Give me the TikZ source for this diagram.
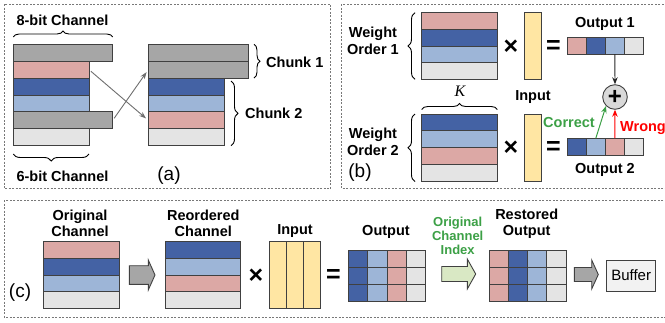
\documentclass[tikz,border=0pt]{standalone}
\usepackage{fontspec}
\setmainfont{Liberation Sans}
\newfontfamily\seriffam{Liberation Serif}
\usetikzlibrary{decorations.pathreplacing,arrows.meta}
\definecolor{cpink}{RGB}{220,168,165}
\definecolor{cdblue}{RGB}{68,98,164}
\definecolor{clblue}{RGB}{157,181,215}
\definecolor{clgray}{RGB}{228,228,228}
\definecolor{cgray}{RGB}{166,166,166}
\definecolor{cyellow}{RGB}{255,230,163}
\definecolor{cline}{RGB}{64,64,64}
\definecolor{cframe}{RGB}{120,120,120}
\definecolor{cgreen}{RGB}{60,160,70}
\definecolor{carrowg}{RGB}{217,232,196}
\definecolor{cbuf}{RGB}{242,242,242}
\definecolor{cconn}{RGB}{110,110,110}
\definecolor{cplus}{RGB}{217,217,217}
\begin{document}
\begin{tikzpicture}[x=1pt,y=-1pt,
  cell/.style={draw=cline, line width=0.9pt, inner sep=0pt, outer sep=0pt, anchor=north west},
  lbl/.style={font=\fontsize{14.5}{17.5}\selectfont\bfseries, align=center, inner sep=0pt},
  lblc/.style={font=\fontsize{14.5}{16}\selectfont\bfseries, align=center, inner sep=0pt},
  tag/.style={font=\fontsize{19}{19}\selectfont, inner sep=0pt},
  frame/.style={draw=cframe, line width=0.8pt, dash pattern=on 2pt off 1.5pt},
  brc/.style={decorate, decoration={brace, amplitude=6pt}, line width=0.9pt, draw=black},
  opr/.style={font=\fontsize{25}{25}\selectfont\bfseries, inner sep=0pt},
  conn/.style={draw=cconn, line width=0.9pt, -{Stealth[length=7pt,width=5pt]}},
  blockarrow/.style={draw=cline, line width=0.9pt}
]
\useasboundingbox (0,0) rectangle (665,322);

% ---------- frames ----------
\draw[frame] (4,4) rectangle (330.5,188.5);
\draw[frame] (341.5,4) rectangle (668,188.5);
\draw[frame] (4,200) rectangle (668,317);

% ---------- panel (a) ----------
\node[cell, fill=cgray,  minimum width=99.4pt, minimum height=16.9pt] (aL1) at (13.3,44.3) {};
\node[cell, fill=cpink,  minimum width=75.7pt, minimum height=16.9pt] (aL2) at (13.3,61.2) {};
\node[cell, fill=cdblue, minimum width=75.7pt, minimum height=16.9pt] (aL3) at (13.3,78.1) {};
\node[cell, fill=clblue, minimum width=75.7pt, minimum height=16.9pt] (aL4) at (13.3,95.0) {};
\node[cell, fill=cgray,  minimum width=99.4pt, minimum height=16.9pt] (aL5) at (13.3,111.9) {};
\node[cell, fill=clgray, minimum width=75.7pt, minimum height=16.9pt] (aL6) at (13.3,128.8) {};

\node[cell, fill=cgray,  minimum width=100pt, minimum height=16.9pt] (aR1) at (148.3,44.3) {};
\node[cell, fill=cgray,  minimum width=100pt, minimum height=16.9pt] (aR2) at (148.3,61.2) {};
\node[cell, fill=cdblue, minimum width=75.7pt, minimum height=16.9pt] (aR3) at (148.3,78.1) {};
\node[cell, fill=clblue, minimum width=75.7pt, minimum height=16.9pt] (aR4) at (148.3,95.0) {};
\node[cell, fill=cpink,  minimum width=75.7pt, minimum height=16.9pt] (aR5) at (148.3,111.9) {};
\node[cell, fill=clgray, minimum width=75.7pt, minimum height=16.9pt] (aR6) at (148.3,128.8) {};

\draw[conn, shorten <=2.5pt, shorten >=3pt] (aL2.east) -- (aR5.west);
\draw[conn, shorten <=2.5pt, shorten >=3pt] (aL5.east) -- (aR2.west);

\draw[brc] (13.3,37) -- (112.7,37);
\node[lbl] (t8bit) at (62.5,20) {8-bit Channel};
\draw[brc, decoration={amplitude=7pt}] (89,154) -- (13.3,154);
\node[lbl] (t6bit) at (62.5,176) {6-bit Channel};
\draw[brc] (254,44.3) -- (254,78.1);
\node[lbl, anchor=west] (tch1) at (266,62) {Chunk 1};
\draw[brc, decoration={amplitude=7pt}] (231,81) -- (231,145.7);
\node[lbl, anchor=west] (tch2) at (245,113) {Chunk 2};
\node[tag] (taga) at (169,176) {(a)};

% ---------- panel (b) ----------
\node[cell, fill=cpink,  minimum width=75.6pt, minimum height=16.65pt] (w11) at (421.7,12.7) {};
\node[cell, fill=cdblue, minimum width=75.6pt, minimum height=16.65pt] (w12) at (421.7,29.35) {};
\node[cell, fill=clblue, minimum width=75.6pt, minimum height=16.65pt] (w13) at (421.7,46.0) {};
\node[cell, fill=clgray, minimum width=75.6pt, minimum height=16.65pt] (w14) at (421.7,62.65) {};
\node[cell, fill=cyellow, minimum width=16.7pt, minimum height=66.6pt] (in1) at (524.3,12.7) {};
\node[opr] (x1) at (511,47) {×};
\node[opr] (eq1) at (553.3,46.5) {=};
\node[cell, fill=cpink,  minimum width=19pt, minimum height=16.7pt] (o11) at (567.3,37.3) {};
\node[cell, fill=cdblue, minimum width=19pt, minimum height=16.7pt] (o12) at (586.3,37.3) {};
\node[cell, fill=clblue, minimum width=19pt, minimum height=16.7pt] (o13) at (605.3,37.3) {};
\node[cell, fill=clgray, minimum width=19pt, minimum height=16.7pt] (o14) at (624.3,37.3) {};
\node[lbl] (tout1) at (605,24) {Output 1};

\node[cell, fill=cdblue, minimum width=75.6pt, minimum height=16.9pt] (w21) at (421.7,114) {};
\node[cell, fill=clblue, minimum width=75.6pt, minimum height=16.9pt] (w22) at (421.7,130.9) {};
\node[cell, fill=cpink,  minimum width=75.6pt, minimum height=16.9pt] (w23) at (421.7,147.8) {};
\node[cell, fill=clgray, minimum width=75.6pt, minimum height=16.9pt] (w24) at (421.7,164.7) {};
\node[cell, fill=cyellow, minimum width=16.7pt, minimum height=67.6pt] (in2) at (524.3,114) {};
\node[opr] (x2) at (511,148.5) {×};
\node[opr] (eq2) at (553.3,148) {=};
\node[cell, fill=cdblue, minimum width=19pt, minimum height=17.4pt] (o21) at (567.3,138.3) {};
\node[cell, fill=clblue, minimum width=19pt, minimum height=17.4pt] (o22) at (586.3,138.3) {};
\node[cell, fill=cpink,  minimum width=19pt, minimum height=17.4pt] (o23) at (605.3,138.3) {};
\node[cell, fill=clgray, minimum width=19pt, minimum height=17.4pt] (o24) at (624.3,138.3) {};
\node[lbl] (tout2) at (605,170) {Output 2};

\draw[brc, decoration={amplitude=7pt}] (415,79.3) -- (415,12.7);
\node[lbl] (two1) at (373,41) {Weight\\Order 1};
\draw[brc, decoration={amplitude=7pt}] (415,181.6) -- (415,114);
\node[lbl] (two2) at (373,142) {Weight\\Order 2};
\draw[brc] (421.7,109.5) -- (497.3,109.5);
\node[inner sep=0pt, font=\fontsize{16}{16}\selectfont\seriffam\itshape] (tK) at (460,91.5) {K};
\node[lbl] (tin) at (533,97) {Input};

\node[circle, draw=cline, fill=cplus, line width=0.9pt, minimum size=24.6pt, inner sep=0pt,
      font=\fontsize{24}{24}\selectfont\bfseries] (plus) at (615,97) {+};
\draw[draw=black!85, line width=0.9pt, -{Stealth[length=7pt,width=5.5pt]}] (o13.south) -- (plus.north);
\draw[draw=red, line width=1pt, -{Stealth[length=7pt,width=5.5pt]}] (o23.north) -- (plus.south);
\draw[draw=cgreen, line width=1pt, -{Stealth[length=7pt,width=5.5pt]}] (o22.north) -- (plus.south west);
\node[lbl, text=cgreen, anchor=east] (tcor) at (595,123) {Correct};
\node[lbl, text=red, anchor=west] (twr) at (620,128) {Wrong};
\node[tag] (tagb) at (360,173) {(b)};

% ---------- panel (c) ----------
\node[cell, fill=cpink,  minimum width=75.7pt, minimum height=16.65pt] (c11) at (43.3,241.7) {};
\node[cell, fill=cdblue, minimum width=75.7pt, minimum height=16.65pt] (c12) at (43.3,258.35) {};
\node[cell, fill=clblue, minimum width=75.7pt, minimum height=16.65pt] (c13) at (43.3,275.0) {};
\node[cell, fill=clgray, minimum width=75.7pt, minimum height=16.65pt] (c14) at (43.3,291.65) {};
\node[lblc] (torig) at (80,223) {Original\\Channel};

\draw[blockarrow, fill=cgray] (129.3,265.7) -- (148.3,265.7) -- (148.3,260) -- (155,275) -- (148.3,290) -- (148.3,284.3) -- (129.3,284.3) -- cycle;

\node[cell, fill=cdblue, minimum width=75pt, minimum height=16.65pt] (c21) at (165.7,241.7) {};
\node[cell, fill=clblue, minimum width=75pt, minimum height=16.65pt] (c22) at (165.7,258.35) {};
\node[cell, fill=cpink,  minimum width=75pt, minimum height=16.65pt] (c23) at (165.7,275.0) {};
\node[cell, fill=clgray, minimum width=75pt, minimum height=16.65pt] (c24) at (165.7,291.65) {};
\node[lblc] (treord) at (203.3,223) {Reordered\\Channel};

\node[opr] (x3) at (256,276) {×};
\foreach \i in {0,1,2} {
  \node[cell, fill=cyellow, minimum width=16.9pt, minimum height=66.6pt] (cin\i) at ({269.3+16.9*\i},241.7) {};
}
\node[lbl] (tin3) at (295,231) {Input};
\node[opr] (eq3) at (333.5,276) {=};

\foreach \r in {0,1,2} {
  \node[cell, fill=cdblue, minimum width=19.35pt, minimum height=17pt] (co\r a) at (348.3,{250+17*\r}) {};
  \node[cell, fill=clblue, minimum width=19.35pt, minimum height=17pt] (co\r b) at (367.65,{250+17*\r}) {};
  \node[cell, fill=cpink,  minimum width=19.35pt, minimum height=17pt] (co\r c) at (387.0,{250+17*\r}) {};
  \node[cell, fill=clgray, minimum width=19.35pt, minimum height=17pt] (co\r d) at (406.35,{250+17*\r}) {};
}
\node[lbl] (tout3) at (386,232) {Output};

\draw[blockarrow, fill=carrowg] (441.7,266.5) -- (467.3,266.5) -- (467.3,259) -- (475.7,274) -- (467.3,289) -- (467.3,281.5) -- (441.7,281.5) -- cycle;
\node[font=\fontsize{13}{14}\selectfont\bfseries, text=cgreen, align=center, inner sep=0pt] (tidx) at (457.7,235.5) {Original\\Channel\\Index};

\foreach \r in {0,1,2} {
  \node[cell, fill=cpink,  minimum width=19.25pt, minimum height=17pt] (cr\r a) at (489,{250+17*\r}) {};
  \node[cell, fill=cdblue, minimum width=19.25pt, minimum height=17pt] (cr\r b) at (508.25,{250+17*\r}) {};
  \node[cell, fill=clblue, minimum width=19.25pt, minimum height=17pt] (cr\r c) at (527.5,{250+17*\r}) {};
  \node[cell, fill=clgray, minimum width=19.25pt, minimum height=17pt] (cr\r d) at (546.75,{250+17*\r}) {};
}
\node[lblc] (trest) at (526.7,224) {Restored\\Output};

\draw[blockarrow, fill=cgray] (574.3,267.5) -- (591.7,267.5) -- (591.7,260) -- (598.3,274.5) -- (591.7,289) -- (591.7,281.5) -- (574.3,281.5) -- cycle;
\node[cell, fill=cbuf, minimum width=49pt, minimum height=31pt, font=\fontsize{15}{15}\selectfont] (buf) at (606.7,260) {Buffer};
\node[tag] (tagc) at (20,293) {(c)};
\end{tikzpicture}
\end{document}
